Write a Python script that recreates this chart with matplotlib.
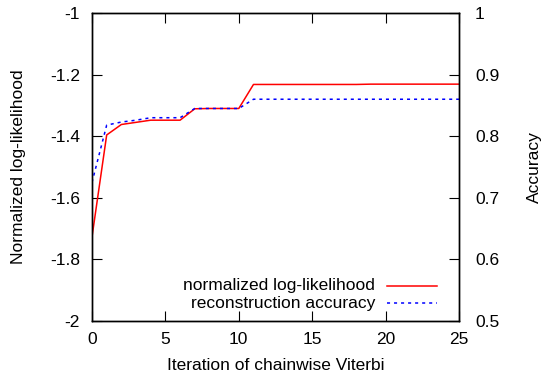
import matplotlib
matplotlib.use("Agg")
import matplotlib.pyplot as plt

plt.rcParams['font.family'] = ['Liberation Sans', 'DejaVu Sans']

iterations = [0, 1, 2, 3, 4, 5, 6, 7, 8, 9, 10, 11, 12, 13, 14, 15, 16, 17, 18, 19, 20, 21, 22, 23, 24, 25]
loglik = [-1.727, -1.396, -1.362, -1.355, -1.348, -1.348, -1.348, -1.311, -1.310, -1.310, -1.310,
          -1.232, -1.232, -1.232, -1.232, -1.232, -1.232, -1.232, -1.232, -1.231, -1.231, -1.231,
          -1.231, -1.231, -1.231, -1.231]
accuracy = [0.725, 0.818, 0.823, 0.826, 0.830, 0.830, 0.830, 0.845, 0.845, 0.845, 0.845,
            0.860, 0.860, 0.860, 0.860, 0.860, 0.860, 0.860, 0.860, 0.860, 0.860, 0.860,
            0.860, 0.860, 0.860, 0.860]

xticks = [0, 5, 10, 15, 20, 25]
yticks_left = [-2, -1.8, -1.6, -1.4, -1.2, -1]
yticks_right = [0.5, 0.6, 0.7, 0.8, 0.9, 1]

fs = 12.5
fig = plt.figure(figsize=(5.42, 3.75), dpi=100)
ax = fig.add_axes([92/542, 54/375, 367/542, 308/375])
ax2 = ax.twinx()

ax.plot(iterations, loglik, color='#ff0000', lw=1.1)
ax2.plot(iterations, accuracy, color='#0000ff', lw=1.1, dashes=(2, 2.6))

ax.set_xlim(0, 25)
ax.set_ylim(-2, -1)
ax2.set_ylim(0.5, 1)
ax.set_xticks(xticks)
ax.set_xticklabels([str(t) for t in xticks])
ax.set_yticks(yticks_left)
ax.set_yticklabels(['-2', '-1.8', '-1.6', '-1.4', '-1.2', '-1'])
ax2.set_yticks(yticks_right)
ax2.set_yticklabels(['0.5', '0.6', '0.7', '0.8', '0.9', '1'])

ax.tick_params(axis='x', direction='in', length=7, width=0.8, top=True, labelsize=fs, pad=8)
ax.tick_params(axis='y', direction='in', length=7, width=0.8, labelsize=fs, pad=8.6)
ax2.tick_params(axis='y', direction='in', length=7, width=0.8, labelsize=fs, pad=11.5)
for a in (ax, ax2):
    for s in a.spines.values():
        s.set_linewidth(1.0)

xl = ax.set_xlabel('Iteration of chainwise Viterbi', fontsize=fs)
xl.set_va('center')
ax.xaxis.set_label_coords(0.5, (321 - 366) / 308)
yl = ax.set_ylabel('Normalized log-likelihood', fontsize=fs)
yl.set_va('center')
ax.yaxis.set_label_coords((19 - 92) / 367, 0.5)
yl2 = ax2.set_ylabel('Accuracy', fontsize=fs)
yl2.set_va('center')
ax2.yaxis.set_label_coords((534 - 92) / 367, 0.5)

# legend (gnuplot-style, text right-aligned before sample)
labels = ['normalized log-likelihood', 'reconstruction accuracy']
ys = [0.1146, 0.0575]
ax.text(0.771, ys[0], labels[0], transform=ax.transAxes, ha='right', va='center', fontsize=fs)
ax.text(0.771, ys[1], labels[1], transform=ax.transAxes, ha='right', va='center', fontsize=fs)
ax.plot([0.803, 0.939], [ys[0], ys[0]], transform=ax.transAxes, color='#ff0000', lw=1.1)
ax.plot([0.803, 0.939], [ys[1], ys[1]], transform=ax.transAxes, color='#0000ff', lw=1.1, dashes=(2, 2.6))

fig.savefig('out.png', dpi=100)
